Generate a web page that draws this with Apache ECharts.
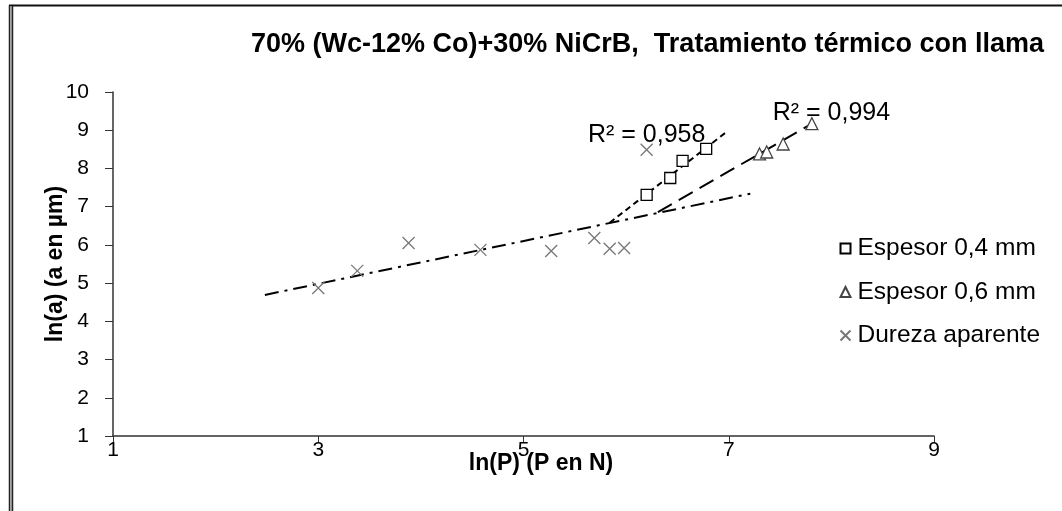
<!DOCTYPE html>
<html>
<head>
<meta charset="utf-8">
<script src="https://cdn.jsdelivr.net/npm/echarts@6/dist/echarts.min.js"></script>
<style>
  html, body { margin: 0; padding: 0; background: #fff; }
  #chart { width: 1062px; height: 511px; }
</style>
</head>
<body>
<div id="chart"></div>
<script>
// Measured points: ln(P) vs ln(a)
const xEspesor04 = [6.20, 6.43, 6.55, 6.78];
const yEspesor04 = [7.31, 7.75, 8.20, 8.51];
const xEspesor06 = [7.30, 7.37, 7.53, 7.81];
const yEspesor06 = [8.38, 8.43, 8.64, 9.17];
const xDureza = [3.00, 3.38, 3.88, 4.58, 5.27, 5.69, 5.84, 5.98, 6.20];
const yDureza = [4.87, 5.32, 6.05, 5.87, 5.84, 6.18, 5.90, 5.92, 8.49];

// Linear trend lines (start and end of each fitted segment)
const xTrend04 = [5.84, 6.99];
const yTrend04 = [6.58, 8.98];
const xTrend06 = [6.31, 7.81];
const yTrend06 = [6.86, 9.17];
const xTrendDureza = [2.48, 7.21];
const yTrendDureza = [4.69, 7.34];

// R² annotations: text and anchor in data coordinates
const r2Texts = ['R² = 0,958', 'R² = 0,994'];
const r2X = [6.20, 8.00];
const r2Y = [8.87, 9.44];

const seriesNames = ['Espesor 0,4 mm', 'Espesor 0,6 mm', 'Dureza aparente'];
const titleText = '70% (Wc-12% Co)+30% NiCrB,  Tratamiento térmico con llama';
const xName = 'ln(P) (P en N)';
const yName = 'ln(a) (a en µm)';

const zip = (xs, ys) => xs.map((x, i) => [x, ys[i]]);
const crossPath = 'path://M0,0L10,10M0,10L10,0';
const FONT = 'Liberation Sans, Arial, sans-serif';

const chart = echarts.init(document.getElementById('chart'), null, { renderer: 'canvas' });

const trendLine = (xs, ys, dash, r2Index) => ({
  type: 'line',
  data: zip(xs, ys),
  symbol: 'none',
  silent: true,
  z: 1,
  lineStyle: { color: '#000', width: 2, type: dash },
  markPoint: r2Index === undefined ? undefined : {
    symbol: 'circle',
    symbolSize: 0,
    silent: true,
    data: [{ coord: [r2X[r2Index], r2Y[r2Index]] }],
    label: {
      show: true,
      position: 'inside',
      formatter: r2Texts[r2Index],
      color: '#000',
      fontFamily: FONT,
      fontSize: 25
    }
  }
});

chart.setOption({
  animation: false,
  backgroundColor: '#fff',
  title: {
    text: titleText,
    left: 246,
    top: 26,
    textStyle: { fontFamily: FONT, fontSize: 27, fontWeight: 'bold', color: '#000' }
  },
  grid: { left: 113, right: 128, top: 92, bottom: 75, containLabel: false },
  legend: {
    orient: 'vertical',
    left: 833,
    top: 231,
    itemWidth: 10,
    itemHeight: 10,
    itemGap: 18.5,
    textStyle: { fontFamily: FONT, fontSize: 24.5, color: '#000', padding: [0, 0, 0, 2] },
    data: [
      { name: seriesNames[0], icon: 'rect' },
      { name: seriesNames[1], icon: 'triangle' },
      { name: seriesNames[2], icon: crossPath }
    ]
  },
  xAxis: {
    type: 'value',
    min: 1,
    max: 9,
    interval: 2,
    name: xName,
    nameLocation: 'middle',
    nameGap: 16,
    nameMoveOverlap: false,
    nameTextStyle: { fontFamily: FONT, fontSize: 23, fontWeight: 'bold', color: '#000', padding: [0, 0, 0, 35] },
    axisLine: { lineStyle: { color: '#333', width: 1.5 } },
    axisTick: { show: true, inside: false, length: 7, lineStyle: { color: '#333' } },
    axisLabel: { margin: 4, fontFamily: FONT, fontSize: 21, color: '#000' },
    splitLine: { show: false }
  },
  yAxis: {
    type: 'value',
    min: 1,
    max: 10,
    interval: 1,
    name: yName,
    nameLocation: 'middle',
    nameGap: 46,
    nameMoveOverlap: false,
    nameTextStyle: { fontFamily: FONT, fontSize: 23, fontWeight: 'bold', color: '#000' },
    axisLine: { show: true, lineStyle: { color: '#333', width: 1.5 } },
    axisTick: { show: true, inside: false, length: 8, lineStyle: { color: '#333' } },
    axisLabel: { margin: 24, fontFamily: FONT, fontSize: 21, color: '#000' },
    splitLine: { show: false }
  },
  series: [
    trendLine(xTrendDureza, yTrendDureza, [14, 6, 3, 6]),
    trendLine(xTrend04, yTrend04, [6, 4], 0),
    trendLine(xTrend06, yTrend06, [16, 8], 1),
    {
      name: seriesNames[0],
      type: 'scatter',
      data: zip(xEspesor04, yEspesor04),
      symbol: 'rect',
      symbolSize: 11,
      z: 3,
      itemStyle: { color: '#fff', borderColor: '#000', borderWidth: 1.3, opacity: 1 }
    },
    {
      name: seriesNames[1],
      type: 'scatter',
      data: zip(xEspesor06, yEspesor06),
      symbol: 'triangle',
      symbolSize: 12,
      z: 3,
      itemStyle: { color: '#fff', borderColor: '#444', borderWidth: 1.3, opacity: 1 }
    },
    {
      name: seriesNames[2],
      type: 'scatter',
      data: zip(xDureza, yDureza),
      symbol: crossPath,
      symbolSize: 12,
      z: 3,
      itemStyle: { color: 'none', borderColor: '#777', borderWidth: 1.3, opacity: 1 }
    }
  ],
  graphic: [
    { type: 'line', silent: true, shape: { x1: 9, y1: 5.5, x2: 1062, y2: 5.5 }, style: { stroke: '#111', lineWidth: 2 } },
    { type: 'line', silent: true, shape: { x1: 9.5, y1: 5, x2: 9.5, y2: 511 }, style: { stroke: '#222', lineWidth: 1.5 } },
    { type: 'line', silent: true, shape: { x1: 11, y1: 6, x2: 11, y2: 511 }, style: { stroke: '#999', lineWidth: 1.5 } },
    { type: 'line', silent: true, shape: { x1: 12.5, y1: 6, x2: 12.5, y2: 511 }, style: { stroke: '#222', lineWidth: 1.5 } }
  ]
});
</script>
</body>
</html>
